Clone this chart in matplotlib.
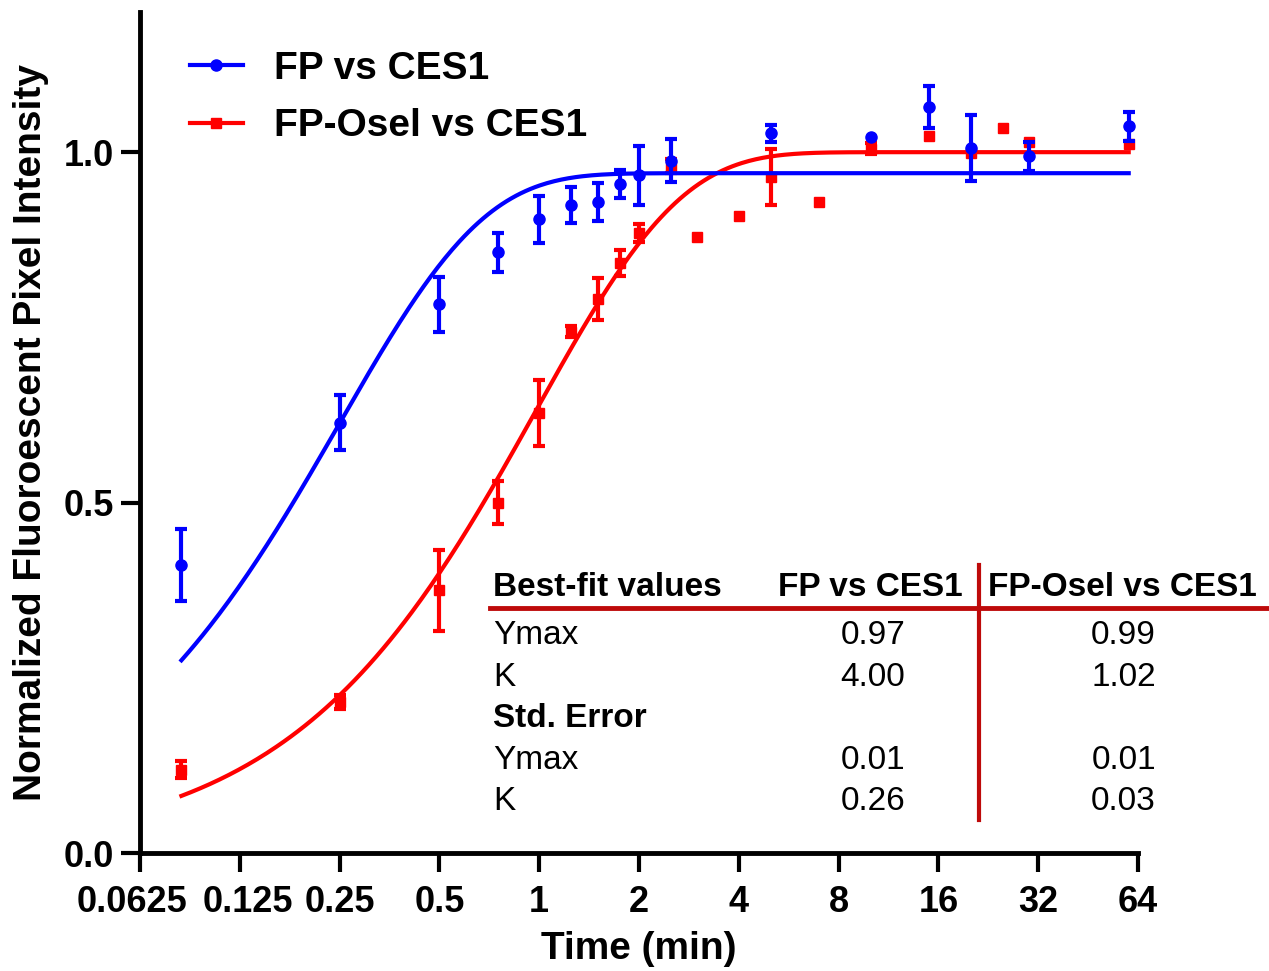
import numpy as np
import matplotlib.pyplot as plt
from matplotlib.lines import Line2D
from matplotlib.transforms import ScaledTranslation

plt.rcParams['font.family'] = ['Liberation Sans', 'DejaVu Sans']

nan = float('nan')

# time points (min)
t_fp = [5/60, 0.25, 0.5, 0.75, 1, 1.25, 1.5, 1.75, 2, 2.5, 5, 10, 15, 20, 30, 60]
y_fp = [0.411, 0.614, 0.783, 0.857, 0.904, 0.925, 0.929, 0.955, 0.967, 0.988,
        1.027, 1.022, 1.064, 1.006, 0.994, 1.037]
e_fp = [0.051, 0.039, 0.039, 0.028, 0.033, 0.026, 0.027, 0.020, 0.042, 0.031,
        0.012, nan, 0.030, 0.047, 0.021, 0.021]

t_osel = [5/60, 0.25, 0.5, 0.75, 1, 1.25, 1.5, 1.75, 2, 2.5, 3, 4, 5, 7, 10,
          15, 20, 25, 30, 60]
y_osel = [0.119, 0.215, 0.375, 0.500, 0.628, 0.744, 0.790, 0.842, 0.885, 0.980,
          0.879, 0.909, 0.964, 0.929, 1.005, 1.023, 0.999, 1.035, 1.015, 1.012]
e_osel = [0.012, 0.010, 0.058, 0.031, 0.047, 0.008, 0.030, 0.018, 0.013, 0.010,
          nan, nan, 0.040, nan, 0.008, nan, nan, nan, nan, nan]

# one-phase association fits: Ymax, K
fit_fp = (0.97, 4.00)
fit_osel = (1.00, 1.02)

xticks = [0.0625, 0.125, 0.25, 0.5, 1, 2, 4, 8, 16, 32, 64]
xticklabels = ["0.0625", "0.125", "0.25", "0.5", "1", "2", "4", "8", "16", "32", "64"]

table_rows = ["Ymax", "K", "Std. Error", "Ymax", "K"]
table_fp = ["0.97", "4.00", "", "0.01", "0.26"]
table_osel = ["0.99", "1.02", "", "0.01", "0.03"]

blue = "#0000FF"
red = "#FF0000"
dark_red = "#BE0A0A"

W, H = 1269, 971
fig = plt.figure(figsize=(W/100, H/100), dpi=100)
ax = fig.add_axes([140/W, 1-853/H, (1138-140)/W, (853-12)/H])


def assoc(x, ymax, k):
    return ymax*(1 - np.exp(-k*x))


xx = np.geomspace(5/60, 60, 400)

ax.errorbar(t_osel, y_osel, yerr=e_osel, fmt='s', color=red, ms=7.5,
            elinewidth=3, capsize=4, capthick=3, zorder=3)
ax.plot(xx, assoc(xx, *fit_osel), color=red, lw=3, zorder=3)
ax.errorbar(t_fp, y_fp, yerr=e_fp, fmt='o', color=blue, ms=8,
            elinewidth=3, capsize=4, capthick=3, zorder=4)
ax.plot(xx, assoc(xx, *fit_fp), color=blue, lw=3, zorder=4)

ax.set_xscale('log', base=2)
ax.set_xlim(0.0625, 64)
ax.set_ylim(0, 1.2)
ax.set_xticks(xticks)
ax.set_xticklabels(xticklabels)
ax.minorticks_off()
ax.set_yticks([0, 0.5, 1.0])
ax.set_yticklabels(["0.0", "0.5", "1.0"])
for lab in ax.get_xticklabels() + ax.get_yticklabels():
    lab.set_fontweight('bold')
ax.tick_params(axis='both', labelsize=26, width=3, length=14, direction='out')
ax.tick_params(axis='x', pad=9)
ax.tick_params(axis='y', pad=5)

# push the two crowded labels apart a little
xl = ax.get_xticklabels()
xl[0].set_transform(xl[0].get_transform() + ScaledTranslation(-0.08, 0, fig.dpi_scale_trans))
xl[1].set_transform(xl[1].get_transform() + ScaledTranslation(0.08, 0, fig.dpi_scale_trans))

for s in ['top', 'right']:
    ax.spines[s].set_visible(False)
for s in ['left', 'bottom']:
    ax.spines[s].set_linewidth(3.5)

ax.set_xlabel("Time (min)", fontsize=28, fontweight='bold', labelpad=8)
ax.set_ylabel("Normalized Fluoroescent Pixel Intensity", fontsize=28,
              fontweight='bold', labelpad=10)

handles = [Line2D([], [], color=blue, lw=3, marker='o', ms=8),
           Line2D([], [], color=red, lw=3, marker='s', ms=7.5)]
leg = ax.legend(handles, ["FP vs CES1", "FP-Osel vs CES1"], loc='upper left',
                bbox_to_anchor=(190/W, 1-51/H), bbox_transform=fig.transFigure,
                frameon=False, prop={'size': 28, 'weight': 'bold'},
                handlelength=1.35, handletextpad=0.8, labelspacing=0.55,
                borderpad=0, borderaxespad=0)

# best-fit table
def fx(px):
    return px/W


def fy(py):
    return 1 - py/H


fs = 24
fig.text(fx(493), fy(588), "Best-fit values", fontsize=fs, fontweight='bold', va='center')
fig.text(fx(963), fy(588), "FP vs CES1", fontsize=fs, fontweight='bold', va='center', ha='right')
fig.text(fx(988), fy(588), "FP-Osel vs CES1", fontsize=fs, fontweight='bold', va='center')
row_y = [635, 677, 718, 760, 801]
for i, name in enumerate(table_rows):
    weight = 'bold' if name == "Std. Error" else 'normal'
    fig.text(fx(493), fy(row_y[i]), name, fontsize=fs, fontweight=weight, va='center')
    fig.text(fx(905), fy(row_y[i]), table_fp[i], fontsize=fs, va='center', ha='right')
    fig.text(fx(1156), fy(row_y[i]), table_osel[i], fontsize=fs, va='center', ha='right')

fig.add_artist(Line2D([fx(490), fx(1269)], [fy(608), fy(608)], color=dark_red, lw=3.5))
fig.add_artist(Line2D([fx(979), fx(979)], [fy(565), fy(820)], color=dark_red, lw=3))

fig.savefig("out.png", dpi=100)
